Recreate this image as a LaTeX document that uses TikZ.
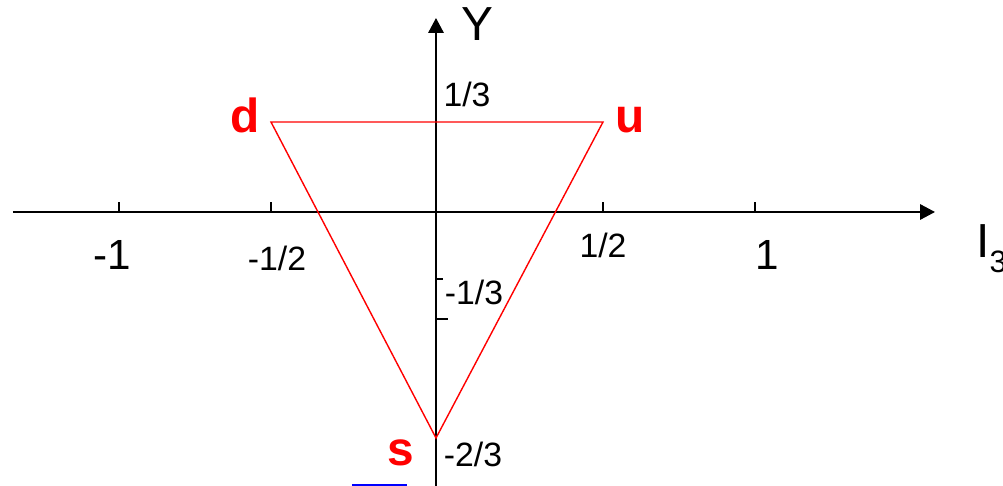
\documentclass[tikz,border=0pt]{standalone}
\usepackage{fontspec}
\setmainfont{Liberation Sans}
\usetikzlibrary{arrows.meta,calc,positioning}

\begin{document}
\begin{tikzpicture}[>={Triangle[length=0.37cm,width=0.38cm]},
  axis/.style={line width=1.4pt},
  tickmark/.style={line width=1.2pt},
  frac/.style={anchor=base,font=\fontsize{24}{26}\selectfont},
  big/.style={anchor=base,font=\fontsize{30}{32}\selectfont},
  quark/.style={anchor=base,red,font=\fontsize{34}{36}\selectfont\bfseries}]
  \useasboundingbox (-10.9,-6.85) rectangle (14.175,5.3);
  % axes
  \coordinate (xl) at (-10.575,0);
  \coordinate (xr) at (12.475,0);
  \coordinate (yb) at (0,-6.9);
  \coordinate (yt) at (0,4.85);
  \draw[axis,->] (xl) -- (xr);
  \draw[axis,->] (yb) -- (yt);
  \node[anchor=base,font=\fontsize{34}{36}\selectfont] (ylab) at (1.025,4.275) {Y};
  \node[anchor=base west,inner sep=0pt,font=\fontsize{34}{36}\selectfont] (xlab) at (13.5,-1.15)
    {I\raisebox{-10.6pt}{\fontsize{22}{24}\selectfont 3}};
  % ticks on I3
  \foreach \x in {-7.925,-4.125,4.175,7.975}
    \draw[tickmark] (\x,0) -- (\x,0.25);
  \node[big] (mone) at (-8.1,-1.45) {-1};
  \node[frac] (mhalf) at (-3.975,-1.46) {-1/2};
  \node[frac] (half) at (4.175,-1.15) {1/2};
  \node[big] (one) at (8.275,-1.45) {1};
  % ticks on Y
  \draw[tickmark] (0,-1.675) -- (0.175,-1.675);
  \draw[tickmark] (0,-2.675) -- (0.3,-2.675);
  \node[frac] (third) at (0.775,2.625) {1/3};
  \node[frac] (mthird) at (0.95,-2.325) {-1/3};
  \node[frac] (mtwothird) at (0.925,-6.35) {-2/3};
  % quark triangle
  \coordinate (d) at (-4.125,2.25);
  \coordinate (u) at (4.175,2.25);
  \coordinate (s) at (0,-5.65);
  \draw[red,line width=1pt,line join=miter] (d) -- (u) -- (s) -- cycle;
  \node[quark] (dlab) at (-4.775,1.975) {d};
  \node[quark] (ulab) at (4.85,1.975) {u};
  \node[quark] (slab) at (-0.875,-6.325) {s};
  \draw[blue,line width=1.6pt] (-2.1,-6.82) -- (-0.725,-6.82);
\end{tikzpicture}
\end{document}
